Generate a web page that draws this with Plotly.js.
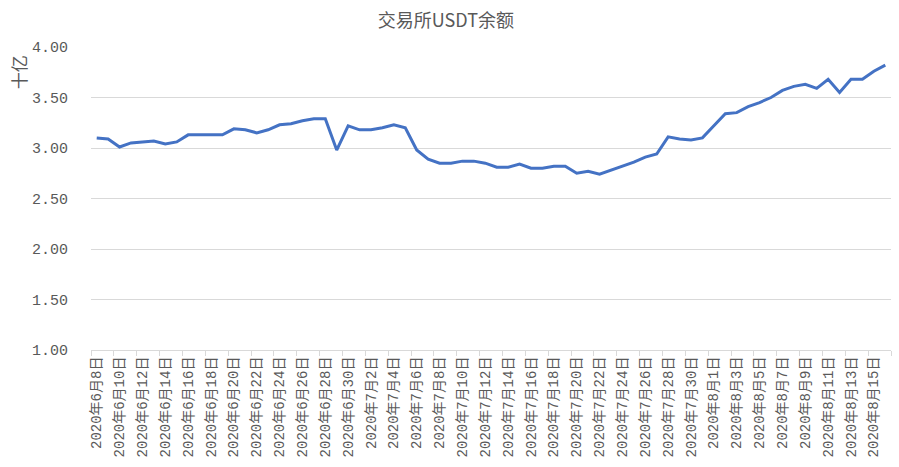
<!DOCTYPE html>
<html>
<head>
<meta charset="utf-8">
<script src="https://cdn.plot.ly/plotly-3.0.1.min.js"></script>
<style>html,body{margin:0;padding:0;background:#fff;}#chart{width:899px;height:467px;}</style>
</head>
<body>
<div id="chart"></div>
<script>
const dates = [
"2020年6月8日","2020年6月9日","2020年6月10日","2020年6月11日","2020年6月12日","2020年6月13日","2020年6月14日","2020年6月15日","2020年6月16日","2020年6月17日",
"2020年6月18日","2020年6月19日","2020年6月20日","2020年6月21日","2020年6月22日","2020年6月23日","2020年6月24日","2020年6月25日","2020年6月26日","2020年6月27日",
"2020年6月28日","2020年6月29日","2020年6月30日","2020年7月1日","2020年7月2日","2020年7月3日","2020年7月4日","2020年7月5日","2020年7月6日","2020年7月7日",
"2020年7月8日","2020年7月9日","2020年7月10日","2020年7月11日","2020年7月12日","2020年7月13日","2020年7月14日","2020年7月15日","2020年7月16日","2020年7月17日",
"2020年7月18日","2020年7月19日","2020年7月20日","2020年7月21日","2020年7月22日","2020年7月23日","2020年7月24日","2020年7月25日","2020年7月26日","2020年7月27日",
"2020年7月28日","2020年7月29日","2020年7月30日","2020年7月31日","2020年8月1日","2020年8月2日","2020年8月3日","2020年8月4日","2020年8月5日","2020年8月6日",
"2020年8月7日","2020年8月8日","2020年8月9日","2020年8月10日","2020年8月11日","2020年8月12日","2020年8月13日","2020年8月14日","2020年8月15日","2020年8月16日"
];
const usdtBalance = [
3.10,3.09,3.01,3.05,3.06,3.07,3.04,3.06,3.13,3.13,
3.13,3.13,3.19,3.18,3.15,3.18,3.23,3.24,3.27,3.29,
3.29,2.98,3.22,3.18,3.18,3.20,3.23,3.20,2.98,2.89,
2.85,2.85,2.87,2.87,2.85,2.81,2.81,2.84,2.80,2.80,
2.82,2.82,2.75,2.77,2.74,2.78,2.82,2.86,2.91,2.94,
3.11,3.09,3.08,3.10,3.22,3.34,3.35,3.41,3.45,3.50,
3.57,3.61,3.63,3.59,3.68,3.55,3.68,3.68,3.76,3.82
];
const chartTitle = "交易所USDT余额";
const unitLabel = "十亿";

const grey = "#595959";
const data = [{
  type: "scatter", mode: "lines",
  x: dates, y: usdtBalance,
  line: {color: "#4472C4", width: 3},
  hoverinfo: "x+y"
}];
const layout = {
  width: 899, height: 467,
  margin: {l: 91, r: 8, t: 47, b: 117},
  paper_bgcolor: "#fff", plot_bgcolor: "#fff",
  showlegend: false,
  title: {text: chartTitle, x: 0.496, xanchor: "center", y: 0.956, yanchor: "middle",
          font: {family: "Noto Sans CJK SC", size: 18, color: grey}},
  xaxis: {
    type: "category",
    range: [-0.5, dates.length - 0.5],
    tickmode: "linear", tick0: 0, dtick: 2,
    tickson: "boundaries",
    ticks: "outside", ticklen: 5, tickcolor: "#d9d9d9",
    showline: true, linecolor: "#d9d9d9", linewidth: 1,
    showgrid: false, zeroline: false,
    tickangle: -90,
    tickfont: {family: "Liberation Mono, Noto Sans CJK SC", size: 14, color: grey}
  },
  yaxis: {
    range: [1, 4], dtick: 0.5, tick0: 1, tickformat: ".2f",
    showgrid: true, gridcolor: "#d9d9d9", gridwidth: 1,
    zeroline: false, showline: false, ticks: "",
    ticklabelstandoff: 22,
    tickfont: {family: "Liberation Mono, Noto Sans CJK SC", size: 15, color: grey}
  },
  annotations: [{
    text: unitLabel, xref: "paper", yref: "paper",
    x: -0.091, y: 0.917, xanchor: "center", yanchor: "middle",
    textangle: -90, showarrow: false,
    font: {family: "Noto Sans CJK SC", size: 17, color: grey}
  }]
};
Plotly.newPlot("chart", data, layout, {displayModeBar: false, staticPlot: true});
</script>
</body>
</html>
